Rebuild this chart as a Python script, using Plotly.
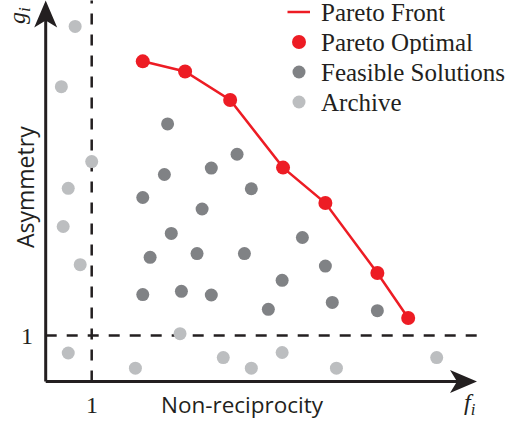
import plotly.graph_objects as go

# ---- data (chart units: 1 = the dashed threshold) ----
pareto_x = [2.11, 3.03, 4.01, 5.16, 6.08, 7.21, 7.88]
pareto_y = [6.96, 6.74, 6.12, 4.65, 3.88, 2.36, 1.38]

feasible_x = [2.65, 4.16, 3.60, 2.58, 2.11, 4.47, 3.40, 2.73, 2.27, 3.29,
              4.32, 5.58, 2.11, 2.95, 3.60, 5.14, 6.08, 4.84, 6.23, 7.21]
feasible_y = [5.60, 4.94, 4.64, 4.50, 4.00, 4.19, 3.75, 3.22, 2.70, 2.78,
              2.78, 3.13, 1.89, 1.96, 1.88, 2.20, 2.51, 1.57, 1.72, 1.54]

archive_x = [0.64, 0.34, 1.00, 0.49, 0.38, 0.75, 2.92, 0.49, 1.95, 3.86,
             4.47, 5.14, 6.32, 8.50]
archive_y = [7.72, 6.41, 4.78, 4.20, 3.37, 2.54, 1.04, 0.62, 0.29, 0.52,
             0.29, 0.63, 0.29, 0.52]

threshold_x = 1
threshold_y = 1
tick_labels = ["1", "1"]
legend_names = ["Pareto Front", "Pareto Optimal", "Feasible Solutions", "Archive"]

# ---- styling / layout geometry ----
W, H = 508, 425
X0PX, Y0PX, S = 45.7, 381.5, 46.0   # origin pixel position and pixels per unit
RED = "#ED1C24"
DARK = "#808285"
LIGHT = "#BCBEC0"
INK = "#231F20"
SERIF = "Liberation Serif"
SANS = "Open Sans"

xr = [-X0PX / S, (W - X0PX) / S]
yr = [-(H - Y0PX) / S, Y0PX / S]
x_end = (477 - X0PX) / S   # arrow tip of x-axis
y_end = (Y0PX - 0.5) / S   # arrow tip of y-axis

fig = go.Figure()
fig.add_trace(go.Scatter(x=archive_x, y=archive_y, mode="markers",
                         marker=dict(color=LIGHT, size=13), name=legend_names[3]))
fig.add_trace(go.Scatter(x=feasible_x, y=feasible_y, mode="markers",
                         marker=dict(color=DARK, size=13), name=legend_names[2]))
fig.add_trace(go.Scatter(x=pareto_x, y=pareto_y, mode="lines+markers",
                         line=dict(color=RED, width=2.5),
                         marker=dict(color=RED, size=14), name=legend_names[1]))

shapes = []
# dashed thresholds
shapes.append(dict(type="line", xref="x", yref="y", x0=threshold_x, x1=threshold_x,
                   y0=0, y1=y_end, line=dict(color=INK, width=2.5, dash="11px,10px"),
                   layer="below"))
shapes.append(dict(type="line", xref="x", yref="y", x0=0, x1=x_end,
                   y0=threshold_y, y1=threshold_y,
                   line=dict(color=INK, width=2.5, dash="11px,10px"), layer="below"))
# axes
shapes.append(dict(type="line", xref="x", yref="y", x0=0, x1=x_end - 10 / S, y0=0, y1=0,
                   line=dict(color=INK, width=3)))
shapes.append(dict(type="line", xref="x", yref="y", x0=0, x1=0, y0=0, y1=y_end - 10 / S,
                   line=dict(color=INK, width=3)))


def arrow_path(tx, ty, direction):
    # offsets in pixels: along (back), across
    pts = [(0, 0), (27, 11.5), (20, 0), (27, -11.5)]
    out = []
    for a, b in pts:
        if direction == "right":
            out.append((tx - a / S, ty + b / S))
        else:
            out.append((tx + b / S, ty - a / S))
    return "M " + " L ".join(f"{x:.4f},{y:.4f}" for x, y in out) + " Z"


shapes.append(dict(type="path", xref="x", yref="y", path=arrow_path(x_end, 0, "right"),
                   fillcolor=INK, line=dict(width=0)))
shapes.append(dict(type="path", xref="x", yref="y", path=arrow_path(0, y_end, "up"),
                   fillcolor=INK, line=dict(width=0)))


def px(x):
    return x / W


def py(y):
    return 1 - y / H


# legend (drawn manually to match spacing)
rows = [12, 42, 72, 102]
shapes.append(dict(type="line", xref="paper", yref="paper", x0=px(287.5), x1=px(310),
                   y0=py(rows[0]), y1=py(rows[0]), line=dict(color=RED, width=2.5)))
for r, c, d in [(rows[1], RED, 14), (rows[2], DARK, 13), (rows[3], LIGHT, 13)]:
    shapes.append(dict(type="circle", xref="paper", yref="paper",
                       x0=px(299 - d / 2), x1=px(299 + d / 2),
                       y0=py(r + d / 2), y1=py(r - d / 2),
                       fillcolor=c, line=dict(width=0)))

ann = []
for r, name in zip(rows, legend_names):
    ann.append(dict(xref="paper", yref="paper", x=px(320), y=py(r), text=name,
                    showarrow=False, xanchor="left", yanchor="middle",
                    height=24, borderpad=0,
                    font=dict(family=SERIF, size=25, color=INK)))


def label(text, x, y, size, family, angle=0, xref="paper", yref="paper"):
    ann.append(dict(xref=xref, yref=yref, x=x, y=y, text=text, showarrow=False,
                    xanchor="center", yanchor="middle", textangle=angle,
                    font=dict(family=family, size=size, color=INK)))


# tick labels
label(tick_labels[0], threshold_x, py(405), 24, SERIF, xref="x")
label(tick_labels[1], px(27), threshold_y, 24, SERIF, yref="y")
# axis titles
label("Non-reciprocity", px(242), py(404), 22.5, SANS)
label("Asymmetry", px(25), py(187), 23, SANS, angle=-90)
label("<i>f</i><sub><i>i</i></sub>", px(470), py(404), 24, SERIF)
label("<i>g</i><sub><i>i</i></sub>", px(19), py(16), 24, SERIF, angle=-90)

fig.update_layout(
    width=W, height=H, margin=dict(l=0, r=0, t=0, b=0),
    paper_bgcolor="white", plot_bgcolor="white", showlegend=False,
    xaxis=dict(range=xr, visible=False, fixedrange=True),
    yaxis=dict(range=yr, visible=False, fixedrange=True),
    shapes=shapes, annotations=ann,
)
fig.write_html("out.html", config={"displayModeBar": False},
               post_script="document.body.style.margin='0px';document.body.style.overflow='hidden';")
